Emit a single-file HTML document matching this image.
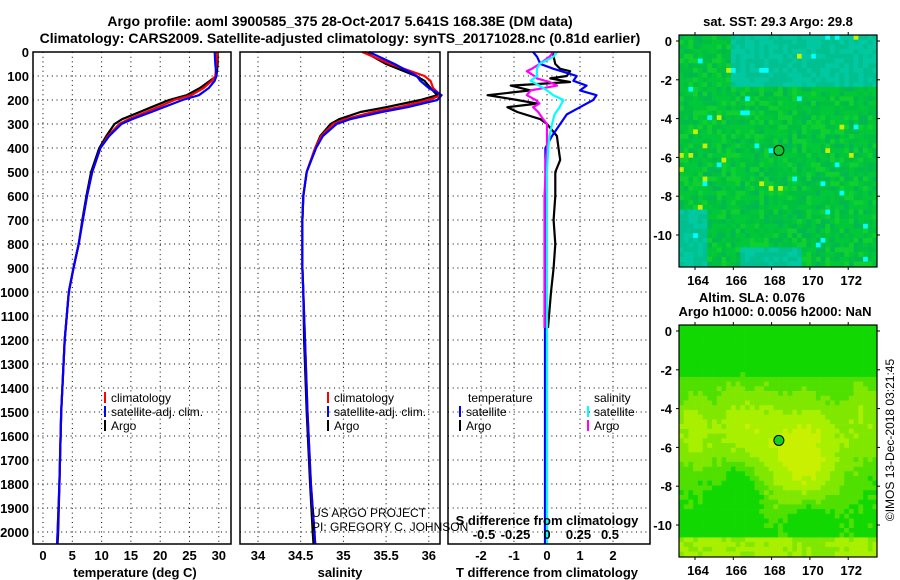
<!DOCTYPE html>
<html><head><meta charset="utf-8">
<style>
html,body{margin:0;padding:0;background:#fff;}
svg{display:block;font-family:"Liberation Sans",sans-serif;}
.b{font-weight:bold;font-size:13px;}
.t{font-weight:bold;font-size:14px;}
.n{font-size:12px;}
</style></head><body>
<svg id="fig" width="900" height="580" viewBox="0 0 900 580" xmlns="http://www.w3.org/2000/svg">
<text class="t" x="340" y="26" text-anchor="middle">Argo profile: aoml 3900585_375 28-Oct-2017 5.641S 168.38E (DM data)</text>
<text class="t" x="340" y="43" text-anchor="middle">Climatology: CARS2009. Satellite-adjusted climatology: synTS_20171028.nc (0.81d earlier)</text>
<g id="grid"></g>
<g id="marks"></g>
<g id="frames"></g>
<g id="maps"></g>
<g id="labels"></g>
</svg>
<script>
// ---- data ----
const depths = [0,50,100,120,150,180,200,230,250,280,300,350,400,500,600,700,800,900,1000,1200,1500,1800,2000,2050];
const tempArgo = [29.8,29.8,29.6,28.5,26.8,24.5,21.5,18.5,16.5,13.5,12.2,10.8,9.6,8.2,7.4,6.7,6.1,5.2,4.4,3.7,3.1,2.8,2.6,2.5];
const tempClim = [29.7,29.6,29.4,28.8,27.4,25.3,22.4,19.6,17.6,14.6,13.0,11.1,9.8,8.4,7.5,6.8,6.1,5.2,4.4,3.7,3.1,2.8,2.5,2.4];
const tempSat  = [29.3,29.4,29.6,29.3,28.3,26.6,23.8,20.6,18.5,15.2,13.4,11.3,9.8,8.4,7.5,6.8,6.1,5.2,4.4,3.7,3.1,2.8,2.5,2.4];
const salArgo = [35.25,35.5,35.85,35.95,36.02,36.1,35.9,35.5,35.2,34.95,34.85,34.73,34.67,34.57,34.53,34.52,34.52,34.52,34.53,34.54,34.57,34.61,34.64,34.65];
const salClim = [35.22,35.55,35.95,36.02,36.05,36.14,36.0,35.65,35.35,35.02,34.88,34.74,34.67,34.57,34.53,34.52,34.52,34.52,34.53,34.55,34.58,34.62,34.66,34.67];
const salSat  = [35.3,35.6,35.86,35.9,36.0,36.15,36.1,35.75,35.45,35.08,34.92,34.76,34.68,34.57,34.53,34.52,34.52,34.52,34.53,34.55,34.58,34.62,34.66,34.67];
const diffDepthArgo = [0,20,50,70,80,100,110,125,140,160,180,200,215,230,250,280,300,350,400,450,500,600,700,800,900,1000,1100,1150];
const dTArgo = [0.18,0.2,0.25,0.4,0.7,0.6,0.1,0.7,-1.1,-0.5,-1.8,-0.9,-0.3,-1.2,-0.9,-0.2,0,0.3,0.35,0.4,0.25,0.25,0.2,0.25,0.2,0.12,0.06,0.03];
const dSArgo = [0.05,0.02,-0.06,-0.12,-0.16,-0.1,-0.08,0.02,0.08,-0.13,-0.16,-0.09,-0.06,-0.11,-0.07,-0.03,0,0,0,-0.01,-0.01,-0.02,-0.02,-0.02,-0.02,-0.02,-0.02,-0.02];
const diffDepthSat = [0,20,50,70,100,120,140,160,180,200,230,260,300,350,400,500,700,1000,1500,2050];
const dTSat = [-0.42,-0.3,-0.2,0.2,0.9,0.8,1.2,1.0,1.5,1.4,1.0,0.6,0.4,0.15,-0.05,-0.05,-0.05,-0.06,-0.06,-0.06];
const dSSat = [0.08,0.05,-0.06,-0.08,-0.08,-0.13,-0.06,0.0,0.05,0.13,0.1,0.06,0.04,0.02,0.01,0.0,0.0,0.0,0.0,0.0];
const depthTicks = [0,100,200,300,400,500,600,700,800,900,1000,1100,1200,1300,1400,1500,1600,1700,1800,1900,2000];
const tempTicks = [0,5,10,15,20,25,30];
const salTicks = [34,34.5,35,35.5,36];
const dTTicks = [-2,-1,0,1,2];
const dSTicks = [-0.5,-0.25,0,0.25,0.5];
const latTicks = [0,-2,-4,-6,-8,-10];
const lonTicks = [164,166,168,170,172];

// ---- scales ----
const yD = d => 52 + d*0.24;
const xT = t => 43 + t*5.86;
const xS = s => 258 + (s-34)*85.4;
const xDT = d => 547 + d*33;
const xDS = d => 547 + d*126;
const P = [{x0:33,x1:231},{x0:240,x1:440},{x0:448,x1:650}];
const Y0=52, Y1=544;
const NS='http://www.w3.org/2000/svg';
function mk(tag, attrs, parent, txt){
  const e=document.createElementNS(NS,tag);
  for(const k in attrs) e.setAttribute(k,attrs[k]);
  if(txt!==undefined) e.textContent=txt;
  parent.appendChild(e); return e;
}
const G=document.getElementById('grid'), M=document.getElementById('marks'), F=document.getElementById('frames'), L=document.getElementById('labels'), MP=document.getElementById('maps');
const dot={stroke:'#000','stroke-width':1,'stroke-dasharray':'1,3.7'};
// grid horizontal
P.forEach(p=>{ depthTicks.forEach(d=>{ if(d>0){ const l=mk('line',Object.assign({x1:p.x0,x2:p.x1,y1:yD(d),y2:yD(d)},dot),G);
    }}); });
function vgrid(ticks,f){ ticks.forEach(v=>{ const l=mk('line',Object.assign({x1:f(v),x2:f(v),y1:Y0,y2:Y1},dot),G);
    }); }
vgrid(tempTicks,xT); vgrid(salTicks,xS); vgrid(dTTicks,xDT);
// frames
P.forEach((p,i)=>{ const r=mk('rect',{x:p.x0,y:Y0,width:p.x1-p.x0,height:Y1-Y0,fill:'none',stroke:'#000','stroke-width':1.5},F);
    });
// depth tick labels
depthTicks.forEach(d=>{ const t=mk('text',{x:29,y:yD(d)+5,'text-anchor':'end',class:'b'},L,String(d));
    });
function xticks(ticks,f,y,name){ ticks.forEach(v=>{ const t=mk('text',{x:f(v),y:y,'text-anchor':'middle',class:'b'},L,String(v).replace(/^0\./,'0.').replace('-0.','-0.'));
    }); }
xticks(tempTicks,xT,560,'temp-tick-label');
xticks(salTicks,xS,560,'salinity-tick-label');
xticks(dTTicks,xDT,560,'dT-tick-label');
xticks(dSTicks,xDS,539,'dS-tick-label');
// lines
function line(xs,ds,fx,color,name,w){
  const pts=xs.map((v,i)=>fx(v).toFixed(1)+','+yD(ds[i]).toFixed(1)).join(' ');
  const pl=mk('polyline',{points:pts,fill:'none',stroke:color,'stroke-width':w||2.2,'stroke-linejoin':'round'},M);
   
}
line(tempArgo,depths,xT,'#000','temp-argo-line');
line(tempClim,depths,xT,'#f00','temp-climatology-line');
line(tempSat,depths,xT,'#00f','temp-satellite-line');
line(salArgo,depths,xS,'#000','salinity-argo-line');
line(salClim,depths,xS,'#f00','salinity-climatology-line');
line(salSat,depths,xS,'#00f','salinity-satellite-line');
line(dTArgo,diffDepthArgo,xDT,'#000','dT-argo-line');
line(dTSat,diffDepthSat,xDT,'#00f','dT-satellite-line');
line(dSArgo,diffDepthArgo,xDS,'#f0f','dS-argo-line');
line(dSSat,diffDepthSat,xDS,'#0ff','dS-satellite-line');
// legends
function leg(x,y,color,label,name){
  const g=mk('g',{},L);  
  mk('rect',{x:x,y:y-10,width:2,height:11,fill:color},g);
  mk('text',{x:x+7,y:y,class:'n'},g,label);
}
leg(104,402,'#f00','climatology','legend-climatology');
leg(104,416,'#00f','satellite-adj. clim.','legend-satellite');
leg(104,430,'#000','Argo','legend-argo');
leg(327,402,'#f00','climatology','legend2-climatology');
leg(327,416,'#00f','satellite-adj. clim.','legend2-satellite');
leg(327,430,'#000','Argo','legend2-argo');
let t=mk('text',{x:468,y:402,class:'n'},L,'temperature');  
t=mk('text',{x:594,y:402,class:'n'},L,'salinity');  
leg(459,416,'#00f','satellite','legend3-t-satellite');
leg(459,430,'#000','Argo','legend3-t-argo');
leg(587,416,'#0ff','satellite','legend3-s-satellite');
leg(587,430,'#f0f','Argo','legend3-s-argo');
t=mk('text',{x:312,y:517,class:'n'},L,'US ARGO PROJECT');  
t=mk('text',{x:312,y:531,class:'n'},L,'PI: GREGORY C. JOHNSON');  
t=mk('text',{x:547,y:525,'text-anchor':'middle',class:'b'},L,'S difference from climatology');  
t=mk('text',{x:135,y:577,'text-anchor':'middle',class:'b'},L,'temperature (deg C)');  
t=mk('text',{x:340,y:577,'text-anchor':'middle',class:'b'},L,'salinity');  
t=mk('text',{x:547,y:577,'text-anchor':'middle',class:'b'},L,'T difference from climatology');  

// ---- maps ----
const MX0=679, MX1=877;
const xLon = v => 695 + (v-164)*19.15;
function yLat(v,top){ return top + 6 - v*19.4; }
function hash(i,j,s){ let h=(i*374761393 + j*668265263 + s*1442695041)|0; h=(h^(h>>>13))*1274126177|0; return ((h^(h>>>16))>>>0)/4294967295; }
function map(top,kind,name){
  const g=mk('g',{},MP);  
  const cs=4.72, nx=42, ny=49;
  for(let j=0;j<ny;j++) for(let i=0;i<nx;i++){
    let c;
    const u=i/nx, v=j/ny, r=hash(i,j,kind);
    if(kind===1){
      const teal = (v<0.22 && u>0.25) || (u<0.12 && v>0.75) || (v>0.9 && u>0.3 && u<0.6);
      if(r>0.985) c='#00ffff'; else if(r>0.975) c='#c8f000';
      else if(teal) c = r>0.5?'#00c8a0':'#00c090';
      else c = r>0.7?'#00c040':(r>0.35?'#00c838':(r>0.15?'#10d030':'#00b850'));
    } else {
      const f = 0.5*Math.exp(-((u-0.62)**2/0.04+(v-0.55)**2/0.06)) + 0.35*Math.exp(-((u-0.3)**2/0.03+(v-0.45)**2/0.05))
        + 0.3*Math.exp(-((u-0.05)**2/0.01+(v-0.45)**2/0.03)) + 0.3*(v>0.9?1:0) + 0.25*Math.exp(-((u-0.95)**2/0.02+(v-0.4)**2/0.04))
        - 0.25*Math.exp(-((u-0.3)**2/0.01+(v-0.7)**2/0.02)) - 0.25*Math.exp(-((u-0.65)**2/0.01+(v-0.85)**2/0.01)) + 0.08*r - 0.1*(v<0.22?1:0);
      c = f>0.45?'#c8f000':f>0.32?'#a8f000':f>0.2?'#80e800':f>0.08?'#50e000':'#10d800';
    }
    mk('rect',{x:(MX0+i*cs).toFixed(2),y:(top+j*cs).toFixed(2),width:cs+0.3,height:cs+0.3,fill:c},g);
  }
  const fr=mk('rect',{x:MX0,y:top,width:MX1-MX0,height:232,fill:'none',stroke:'#000','stroke-width':1.2},g);
  const cc=mk('circle',{cx:xLon(168.38),cy:yLat(-5.641,top),r:5,fill:kind===1?'#10c830':'#10d020',stroke:'#000','stroke-width':1},g);
   
  latTicks.forEach(v=>{ const tt=mk('text',{x:672,y:yLat(v,top)+5,'text-anchor':'end',class:'b'},L,String(v));
     
    mk('line',{x1:MX0,x2:MX0-3,y1:yLat(v,top),y2:yLat(v,top),stroke:'#000'},g);
    mk('line',{x1:MX1,x2:MX1+3,y1:yLat(v,top),y2:yLat(v,top),stroke:'#000'},g); });
  lonTicks.forEach(v=>{ const tt=mk('text',{x:xLon(v)+3,y:top+250,'text-anchor':'middle',class:'b'},L,String(v));
     
    mk('line',{x1:xLon(v),x2:xLon(v),y1:top,y2:top-3,stroke:'#000'},g);
    mk('line',{x1:xLon(v),x2:xLon(v),y1:top+232,y2:top+235,stroke:'#000'},g); });
}
map(35,1,'sst-map');
map(325,2,'sla-map');
t=mk('text',{x:778,y:26,'text-anchor':'middle',class:'b'},L,'sat. SST: 29.3 Argo: 29.8');  
t=mk('text',{x:752,y:302,'text-anchor':'middle',class:'b'},L,'Altim. SLA: 0.076');  
t=mk('text',{x:775,y:316,'text-anchor':'middle',class:'b'},L,'Argo h1000: 0.0056 h2000: NaN');  
t=mk('text',{x:0,y:0,'text-anchor':'middle',class:'n',transform:'translate(894,440) rotate(-90)'},L,'©IMOS 13-Dec-2018 03:21:45');  
</script>
</body></html>
